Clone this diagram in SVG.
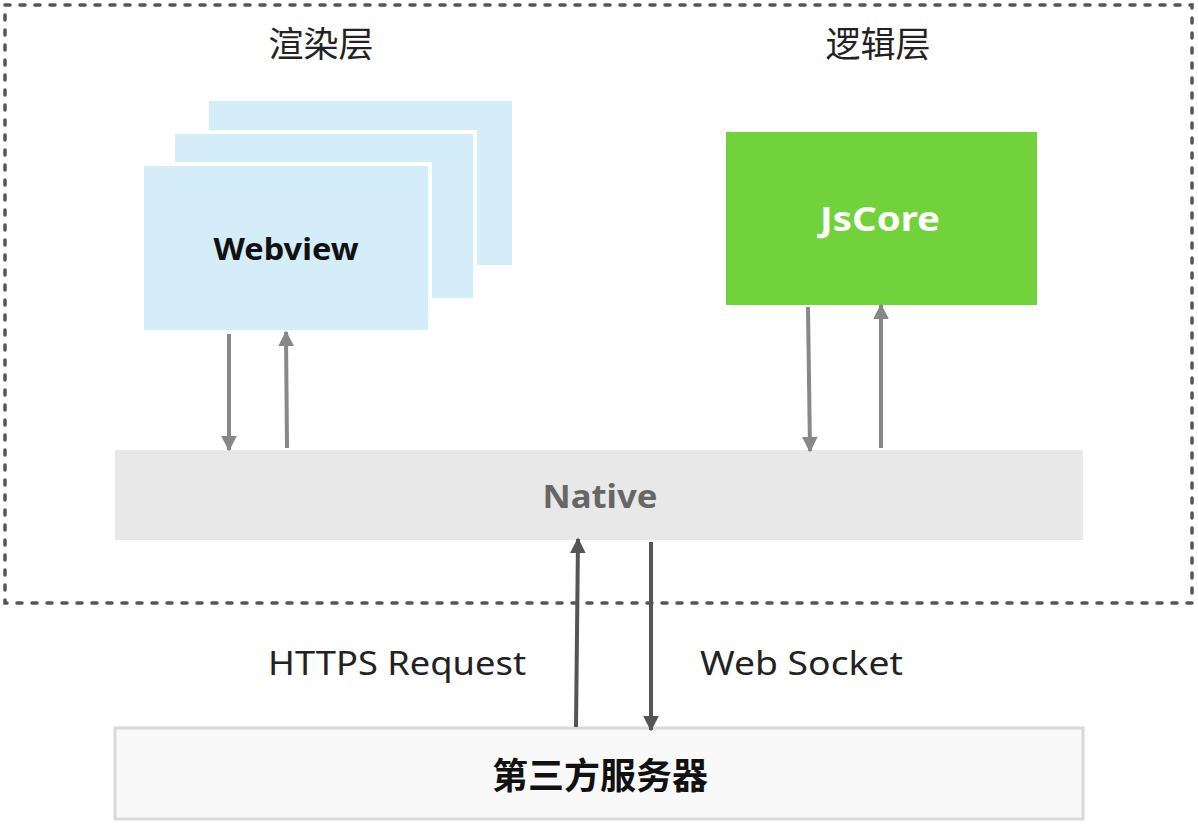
<svg xmlns="http://www.w3.org/2000/svg" width="1198" height="824" viewBox="0 0 1198 824">
<style>
.lbl{font-family:"Noto Sans","Open Sans","Noto Sans CJK SC",sans-serif;font-size:35px;fill:#222;text-anchor:middle}
.lat{font-family:"Noto Sans","Open Sans",sans-serif;font-size:33px;fill:#222}
.b{font-family:"Noto Sans","Open Sans","Noto Sans CJK SC",sans-serif;font-weight:bold;text-anchor:middle;dominant-baseline:central}
.wv{fill:#d5ecf9;stroke:#fff;stroke-width:4}
.c1{stroke:#888;stroke-width:4;fill:none}
.c2{stroke:#555;stroke-width:4;fill:none}
</style>
<defs>
<marker id="ag" viewBox="0 0 10 10" refX="9" refY="5" markerWidth="4" markerHeight="4" orient="auto" markerUnits="strokeWidth"><path d="M0,0L10,5L0,10z" fill="#888"/></marker>
<marker id="ad" viewBox="0 0 10 10" refX="9" refY="5" markerWidth="4" markerHeight="4" orient="auto" markerUnits="strokeWidth"><path d="M0,0L10,5L0,10z" fill="#555"/></marker>
</defs>
<rect width="1198" height="824" fill="#fff"/>
<rect id="frame" x="5" y="5" width="1187" height="598" fill="none" stroke="#555" stroke-width="3.5" stroke-dasharray="5 10" stroke-linecap="round"/>
<text class="lbl" x="321" y="57">渲染层</text>
<text class="lbl" x="878" y="57">逻辑层</text>
<g id="webview">
<rect class="wv" x="207" y="99" width="307" height="168"/>
<rect class="wv" x="173" y="132" width="302" height="168"/>
<rect class="wv" x="142" y="164" width="288" height="168"/>
<text class="b" x="286" y="248" font-size="31" fill="#111" textLength="145" lengthAdjust="spacingAndGlyphs">Webview</text>
</g>
<g id="jscore">
<rect x="726" y="132" width="311" height="173" fill="#72d23c"/>
<text class="b" x="880" y="218" font-size="34" fill="#fff" textLength="120" lengthAdjust="spacingAndGlyphs">JsCore</text>
</g>
<g id="native">
<rect x="115" y="450" width="968" height="90" fill="#e8e8e8"/>
<text class="b" x="600" y="495" font-size="32" fill="#666" textLength="115" lengthAdjust="spacingAndGlyphs">Native</text>
</g>
<g id="server">
<rect x="115" y="728" width="968" height="91" fill="#f9f9f9" stroke="#d9d9d9" stroke-width="3"/>
<text class="b" x="600" y="775" font-size="36" fill="#111">第三方服务器</text>
</g>
<g id="connectors">
<line class="c1" x1="229" y1="334" x2="229" y2="450" marker-end="url(#ag)"/>
<line class="c1" x1="287" y1="448" x2="286" y2="332" marker-end="url(#ag)"/>
<line class="c1" x1="808" y1="307" x2="810" y2="451" marker-end="url(#ag)"/>
<line class="c1" x1="881" y1="448" x2="881" y2="305" marker-end="url(#ag)"/>
<line class="c2" x1="576" y1="727" x2="578" y2="539" marker-end="url(#ad)"/>
<line class="c2" x1="651" y1="542" x2="651" y2="730" marker-end="url(#ad)"/>
</g>
<text class="lat" x="268" y="675" textLength="258" lengthAdjust="spacingAndGlyphs">HTTPS Request</text>
<text class="lat" x="700" y="675" textLength="203" lengthAdjust="spacingAndGlyphs">Web Socket</text>
</svg>
